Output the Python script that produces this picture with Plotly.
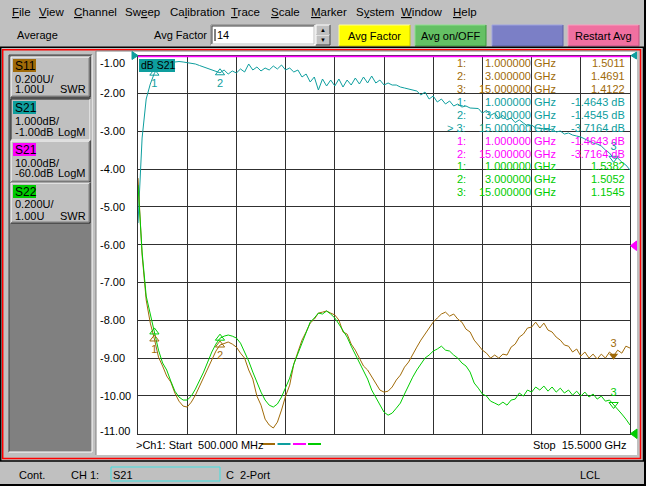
import numpy as np
import plotly.graph_objects as go

W, H = 646, 486
FONT = "Liberation Sans"

# sweep: 121 points, 500 MHz .. 15.5 GHz
f_start, f_stop, n_pts = 0.5, 15.5, 121
freq = np.linspace(f_start, f_stop, n_pts)  # GHz

# S21 log mag (dB)
s21_db = [
    -5.429, -3.180, -2.148, -1.751, -1.464, -1.328, -1.249, -1.196, -1.183, -1.169,
    -1.156, -1.169, -1.183, -1.209, -1.222, -1.262, -1.302, -1.328, -1.368, -1.407,
    -1.455, -1.381, -1.487, -1.407, -1.460, -1.354, -1.434, -1.222, -1.381, -1.302,
    -1.407, -1.328, -1.381, -1.275, -1.354, -1.249, -1.381, -1.328, -1.434, -1.381,
    -1.566, -1.487, -1.698, -1.566, -1.910, -1.619, -1.804, -1.646, -1.804, -1.619,
    -1.831, -1.646, -1.778, -1.593, -1.751, -1.566, -1.725, -1.540, -1.725, -1.646,
    -1.778, -1.725, -1.778, -1.778, -1.831, -1.857, -1.884, -1.910, -1.937, -2.042,
    -1.963, -2.148, -2.069, -2.228, -2.148, -2.280, -2.201, -2.333, -2.280, -2.360,
    -2.333, -2.386, -2.386, -2.400, -2.520, -2.450, -2.580, -2.520, -2.660, -2.580,
    -2.700, -2.650, -2.770, -2.700, -2.783, -2.862, -2.836, -2.915, -2.915, -2.942,
    -2.968, -2.942, -3.021, -2.995, -3.074, -3.048, -3.101, -3.127, -3.153, -3.206,
    -3.259, -3.312, -3.339, -3.392, -3.497, -3.577, -3.716, -3.709, -3.815, -3.894,
    -4.026,
]

# S11 SWR (brown trace)
s11_swr = [
    2.352, 1.945, 1.707, 1.585, 1.501, 1.405, 1.358, 1.305, 1.273, 1.215,
    1.172, 1.146, 1.141, 1.167, 1.204, 1.252, 1.299, 1.347, 1.395, 1.437,
    1.469, 1.479, 1.485, 1.474, 1.458, 1.426, 1.400, 1.337, 1.289, 1.199,
    1.151, 1.077, 1.046, 1.030, 1.061, 1.125, 1.199, 1.257, 1.368, 1.432,
    1.495, 1.538, 1.585, 1.606, 1.638, 1.643, 1.649, 1.638, 1.628, 1.601,
    1.538, 1.527, 1.474, 1.442, 1.400, 1.358, 1.337, 1.299, 1.262, 1.231,
    1.220, 1.225, 1.247, 1.284, 1.310, 1.352, 1.379, 1.421, 1.458, 1.495,
    1.527, 1.559, 1.590, 1.612, 1.633, 1.643, 1.622, 1.633, 1.606, 1.590,
    1.553, 1.538, 1.495, 1.469, 1.442, 1.426, 1.400, 1.416, 1.400, 1.421,
    1.416, 1.458, 1.474, 1.511, 1.527, 1.559, 1.564, 1.590, 1.559, 1.585,
    1.548, 1.538, 1.511, 1.495, 1.469, 1.463, 1.432, 1.448, 1.411, 1.432,
    1.400, 1.421, 1.395, 1.421, 1.400, 1.432, 1.412, 1.442, 1.426, 1.463,
    1.453,
]

# S22 SWR (green trace)
s22_swr = [
    2.315, 1.961, 1.728, 1.638, 1.538, 1.442, 1.374, 1.337, 1.278, 1.225,
    1.194, 1.178, 1.178, 1.199, 1.236, 1.278, 1.326, 1.379, 1.432, 1.474,
    1.505, 1.516, 1.522, 1.516, 1.506, 1.479, 1.432, 1.384, 1.326, 1.268,
    1.220, 1.178, 1.151, 1.141, 1.157, 1.194, 1.241, 1.294, 1.368, 1.426,
    1.479, 1.532, 1.590, 1.612, 1.638, 1.633, 1.649, 1.633, 1.612, 1.580,
    1.548, 1.511, 1.463, 1.421, 1.379, 1.337, 1.289, 1.231, 1.194, 1.151,
    1.114, 1.098, 1.109, 1.135, 1.162, 1.210, 1.257, 1.299, 1.337, 1.368,
    1.400, 1.416, 1.437, 1.448, 1.463, 1.442, 1.437, 1.416, 1.400, 1.374,
    1.358, 1.326, 1.268, 1.241, 1.210, 1.199, 1.172, 1.162, 1.151, 1.167,
    1.151, 1.178, 1.183, 1.215, 1.199, 1.231, 1.220, 1.247, 1.231, 1.252,
    1.225, 1.247, 1.220, 1.241, 1.215, 1.231, 1.204, 1.225, 1.199, 1.220,
    1.194, 1.210, 1.183, 1.199, 1.172, 1.178, 1.155, 1.130, 1.104, 1.077,
    1.046,
]

# marker readouts
mkr_freq = [1.0, 3.0, 15.0]
s11_mkr = [1.5011, 1.4691, 1.4122]
s21_mkr = [-1.4643, -1.4545, -3.7164]
s21m_freq = [1.0, 15.0]
s21m_mkr = [-1.4643, -3.7164]
s22_mkr = [1.5382, 1.5052, 1.1545]

y_ticks = [-1, -2, -3, -4, -5, -6, -7, -8, -9, -10, -11]

menu_items = ["<u>F</u>ile", "<u>V</u>iew", "<u>C</u>hannel", "Sw<u>e</u>ep", "Ca<u>l</u>ibration",
              "<u>T</u>race", "<u>S</u>cale", "<u>M</u>arker", "S<u>y</u>stem", "<u>W</u>indow", "<u>H</u>elp"]
menu_x = [10, 37, 72, 123, 168, 229, 269, 309, 354, 399, 451]

BROWN = "#a06a08"
TEAL = "#0e9e9e"
MAGENTA = "#ff00ff"
GREEN = "#00cc00"
GRID = "#303030"
GRAY = "#c0c0c0"
DARK = "#808080"

shapes = []
annots = []


def px(x):
    return x / W


def py(y):
    return 1 - y / H


def box(x0, y0, x1, y1, fill, line=None, lw=0, layer="below"):
    shapes.append(dict(type="rect", xref="paper", yref="paper", layer=layer,
                       x0=px(x0), x1=px(x1), y0=py(y1), y1=py(y0),
                       fillcolor=fill, line=dict(color=line or fill, width=lw)))


def seg(x0, y0, x1, y1, color, lw=1, layer="below"):
    shapes.append(dict(type="line", xref="paper", yref="paper", layer=layer,
                       x0=px(x0), x1=px(x1), y0=py(y0), y1=py(y1),
                       line=dict(color=color, width=lw)))


def bevel(x0, y0, x1, y1, light, dark, layer="below"):
    seg(x0, y0, x1, y0, light, layer=layer)
    seg(x0, y0, x0, y1, light, layer=layer)
    seg(x0, y1, x1, y1, dark, layer=layer)
    seg(x1, y0, x1, y1, dark, layer=layer)


def tri(pts, color, layer="above"):
    d = "M " + " L ".join(f"{px(a)},{py(b)}" for a, b in pts) + " Z"
    shapes.append(dict(type="path", xref="paper", yref="paper", layer=layer, path=d,
                       fillcolor=color, line=dict(color=color, width=1)))


def label(x, y, text, color="black", size=11, anchor="left"):
    annots.append(dict(xref="paper", yref="paper", x=px(x), y=py(y), text=text,
                       xanchor=anchor, yanchor="middle", showarrow=False,
                       font=dict(family=FONT, size=size, color=color)))


# ---- window chrome ----
for t, x in zip(menu_items, menu_x):
    label(x, 12, t, size=11.5)
label(15, 35, "Average")
label(152, 35, "Avg Factor")
box(211, 25, 315, 45, "white")
bevel(211, 25, 315, 45, DARK, "white")
bevel(212, 26, 314, 44, "#404040", GRAY)
seg(215, 29, 215, 41, "black")
label(215, 35, "14")
for y0, y1, arrow in [(25, 35, "▲"), (35, 45, "▼")]:
    box(316, y0, 330, y1, GRAY)
    bevel(316, y0, 330, y1, "white", "#404040")
    label(323, (y0 + y1) / 2, arrow, size=6, anchor="center")

buttons = [(339, 410, "#ffff00", "#ffff99", "#c8c800", "Avg Factor"),
           (415, 486, "#64c064", "#90e090", "#3c963c", "Avg on/OFF"),
           (492, 563, "#7b7fc6", "#a0a4e0", "#5a5ea0", ""),
           (568, 639, "#f070a0", "#f8a0c0", "#c05080", "Restart Avg")]
for x0, x1, face, lt, dk, txt in buttons:
    box(x0, 25, x1, 46, face)
    bevel(x0, 25, x1, 46, lt, dk)
    label((x0 + x1) / 2, 35.5, txt, anchor="center")

# main frame
box(644, 0, 646, 486, "black")
box(0, 484, 646, 486, "black")
shapes.append(dict(type="rect", xref="paper", yref="paper", layer="below",
                   x0=px(0.7), x1=px(643.5), y0=py(461), y1=py(47.3),
                   line=dict(color="black", width=1.5)))
shapes.append(dict(type="rect", xref="paper", yref="paper", layer="below",
                   x0=px(2.7), x1=px(640.5), y0=py(458.5), y1=py(49.7),
                   line=dict(color="#ff0000", width=1.5)))

# left channel panel
box(9, 55, 92, 452, DARK)
bevel(9, 55, 92, 452, "#404040", "white")
panel = [(57, 97, BROWN, "S11", "0.200U/", "1.00U", "SWR", False),
         (99, 140, TEAL, "S21", "1.000dB/", "-1.00dB", "LogM", True),
         (141, 182, MAGENTA, "S21", "10.00dB/", "-60.0dB", "LogM", False),
         (183, 223, GREEN, "S22", "0.200U/", "1.00U", "SWR", False)]
for y0, y1, col, name, l2, l3, fmt, pressed in panel:
    box(11, y0, 90, y1, GRAY)
    if pressed:
        bevel(11, y0, 90, y1, "#202020", "white")
    else:
        bevel(11, y0, 90, y1, "white", "#202020")
        seg(12, y1 - 1, 89, y1 - 1, DARK)
        seg(89, y0 + 1, 89, y1 - 1, DARK)
    box(13, y0 + 2, 36, y0 + 15, col)
    label(13, y0 + 9, name, size=12)
    label(13, y0 + 21.5, l2)
    label(13, y0 + 32.5, l3)
    label(88, y0 + 32.5, fmt, anchor="right")

# plot panel
box(96, 51, 637, 455, "white")
seg(96, 51, 96, 455, DARK)
seg(96, 51, 637, 51, DARK)

# reference position arrows
tri([(132, 51.5), (138, 55.6), (132, 59.5)], TEAL)
tri([(636.5, 52), (631, 55.6), (636.5, 59)], TEAL)
tri([(636.5, 241), (630.5, 245.7), (636.5, 250.5)], MAGENTA)
tri([(637, 429), (630.5, 433.7), (637, 438.5)], GREEN)

# trace title
box(139, 59, 175, 72, TEAL, layer="above")
label(139, 65.5, "dB S21", size=10.5)

# y tick labels (left aligned, like the instrument)
for v in y_ticks:
    shift = -7 if v == y_ticks[0] else (3 if v == y_ticks[-1] else 0)
    annots.append(dict(xref="paper", yref="y", x=px(98), y=v, yshift=shift, text=f"{v:.2f}",
                       xanchor="left", yanchor="middle", showarrow=False,
                       font=dict(family=FONT, size=11, color="black")))

# marker table
rows = []
for i, (f, v) in enumerate(zip(mkr_freq, s11_mkr)):
    rows.append((BROWN, f"{i + 1}:", f, f"{v:.4f}"))
for i, (f, v) in enumerate(zip(mkr_freq, s21_mkr)):
    rows.append((TEAL, ("> " if i == 2 else "") + f"{i + 1}:", f, f"{v:.4f} dB"))
for i, (f, v) in enumerate(zip(s21m_freq, s21m_mkr)):
    rows.append((MAGENTA, f"{i + 1}:", f, f"{v:.4f} dB"))
for i, (f, v) in enumerate(zip(mkr_freq, s22_mkr)):
    rows.append((GREEN, f"{i + 1}:", f, f"{v:.4f}"))
for k, (col, idx, f, val) in enumerate(rows):
    yy = 63.3 + 12.9 * k
    label(468, yy, idx, col, anchor="right")
    label(558, yy, f"{f:.6f} GHz", col, anchor="right")
    label(627, yy, val, col, anchor="right")

# bottom info line
label(134, 445, ">Ch1: Start\u00a0\u00a0500.000 MHz")
for x0, col in [(262, BROWN), (277.5, TEAL), (293, MAGENTA), (308, GREEN)]:
    seg(x0, 444, x0 + 13, 444, col, lw=2)
label(629, 445, "Stop\u00a0\u00a015.5000 GHz", anchor="right")

# status bar
label(17, 474.5, "Cont.")
label(69, 474.5, "CH 1:")
shapes.append(dict(type="rect", xref="paper", yref="paper", layer="below",
                   x0=px(111), x1=px(220), y0=py(481), y1=py(467),
                   line=dict(color="#40e0e0", width=1)))
label(111, 474.5, "S21")
label(224, 474.5, "C\u00a0\u00a02-Port")
label(578, 474.5, "LCL")

# ---- traces ----
fig = go.Figure()
fig.add_trace(go.Scatter(x=freq, y=s21_db, mode="lines", line=dict(color=TEAL, width=1), yaxis="y"))
fig.add_trace(go.Scatter(x=freq, y=s11_swr, mode="lines", line=dict(color=BROWN, width=1), yaxis="y2"))
fig.add_trace(go.Scatter(x=freq, y=s22_swr, mode="lines", line=dict(color=GREEN, width=1), yaxis="y2"))
# 10 dB/div, ref -60 dB: the whole trace sits above the grid and is pinned to the top edge
fig.add_trace(go.Scatter(x=freq, y=np.clip(s21_db, -110, -10), mode="lines",
                         line=dict(color=MAGENTA, width=2), yaxis="y3"))

# markers 1 and 2 (labels under the triangle); on S22 the numbers are hidden under S11's
for ys, col, ax, txt in [(s21_mkr, TEAL, "y", ["1", "2"]), (s22_mkr, GREEN, "y2", ["", ""]),
                         (s11_mkr, BROWN, "y2", ["1", "2"])]:
    fig.add_trace(go.Scatter(x=mkr_freq[:2], y=ys[:2], mode="markers+text", yaxis=ax,
                             text=txt, textposition="bottom center",
                             textfont=dict(family=FONT, size=11, color=col),
                             marker=dict(symbol="triangle-up-open", size=8, color=col)))
# marker 3 (label above)
for ys, col, ax, sym in [(s21_mkr, TEAL, "y", "triangle-down-open"),
                         (s11_mkr, BROWN, "y2", "triangle-down"),
                         (s22_mkr, GREEN, "y2", "triangle-down-open")]:
    fig.add_trace(go.Scatter(x=mkr_freq[2:], y=ys[2:], mode="markers+text", yaxis=ax,
                             text=["3"], textposition="top center",
                             textfont=dict(family=FONT, size=11, color=col),
                             marker=dict(symbol=sym, size=8, color=col)))

axis_common = dict(showticklabels=False, ticks="", zeroline=False, showline=True, mirror=True,
                   linecolor=GRID, linewidth=1, gridcolor=GRID, gridwidth=1, layer="below traces",
                   fixedrange=True)
fig.update_layout(
    width=W, height=H, margin=dict(l=0, r=0, t=0, b=0),
    paper_bgcolor=GRAY, plot_bgcolor="rgba(0,0,0,0)",
    showlegend=False, hovermode=False,
    xaxis=dict(domain=[138 / W, 630 / W], range=[f_start, f_stop], tick0=f_start, dtick=1.5,
               **axis_common),
    yaxis=dict(domain=[1 - 433.7 / H, 1 - 55.6 / H], range=[-11, -1], tick0=-1, dtick=1,
               **axis_common),
    yaxis2=dict(overlaying="y", range=[1.0, 3.0], visible=False, fixedrange=True),
    yaxis3=dict(overlaying="y", range=[-110, -9.8], visible=False, fixedrange=True),
    shapes=shapes, annotations=annots,
)

fig.write_html("out.html", config={"displayModeBar": False, "staticPlot": True},
               post_script="document.body.style.margin='0';")
